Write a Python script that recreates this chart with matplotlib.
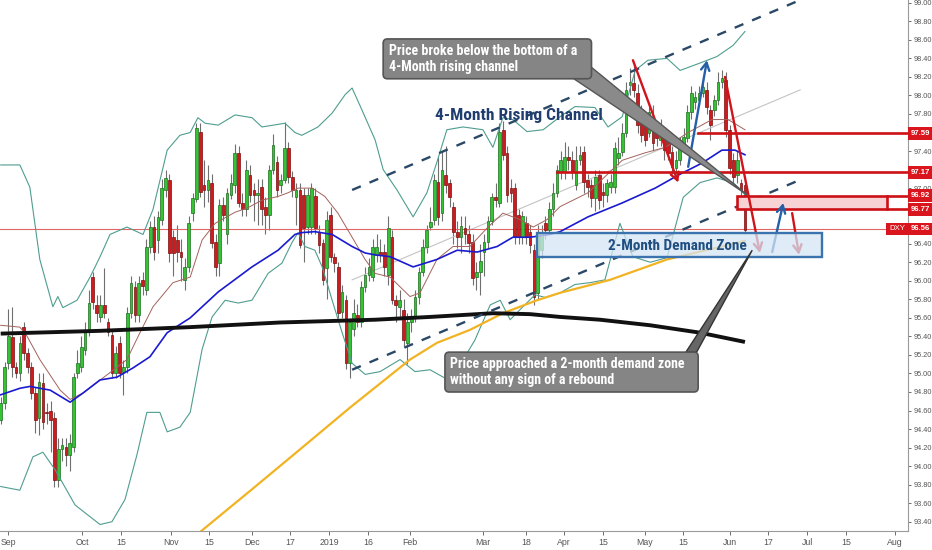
import matplotlib
matplotlib.use('Agg')
import matplotlib.pyplot as plt
from matplotlib.patches import Rectangle, FancyBboxPatch, Polygon
from matplotlib import font_manager as fm
import numpy as np

# ---------------- data ----------------
opens = [94.50, 94.68, 95.11, 95.39, 95.07, 95.01, 95.50, 95.22, 95.07, 94.79,
         94.52, 94.90, 94.58, 94.60, 94.52, 93.85, 94.18, 94.21, 94.12, 94.21,
         95.01, 95.07, 95.25, 95.45, 96.04, 95.74, 95.61, 95.74, 95.56, 95.42,
         95.01, 95.33, 95.02, 95.07, 95.65, 95.93, 95.63, 96.01, 95.90, 96.36,
         96.58, 96.44, 96.66, 96.98, 97.09, 96.47, 96.44, 96.31, 96.01, 96.15,
         96.73, 96.88, 97.61, 97.03, 96.98, 97.06, 96.42, 96.19, 96.82, 96.50,
         96.93, 97.03, 97.38, 96.84, 96.77, 97.14, 96.98, 96.93, 97.01, 96.80,
         96.71, 97.20, 97.28, 97.03, 97.09, 97.43, 97.12, 96.90, 96.98, 96.93,
         96.58, 96.58, 96.91, 96.53, 96.41, 96.14, 96.71, 96.26, 96.15, 95.66,
         95.79, 95.11, 95.48, 95.63, 95.56, 95.93, 96.06, 96.04, 96.28, 96.31,
         96.31, 96.06, 96.47, 95.79, 95.72, 95.69, 95.33, 95.55, 95.60, 95.83,
         96.09, 96.37, 96.58, 96.66, 97.07, 96.73, 97.14, 97.06, 96.80, 96.53,
         96.47, 96.57, 96.50, 96.42, 96.04, 96.09, 96.31, 96.42, 96.64, 96.90,
         96.84, 97.63, 97.38, 97.00, 97.00, 96.71, 96.47, 96.62, 96.53, 96.33,
         95.87, 96.33, 96.62, 96.55, 96.77, 96.95, 97.17, 97.17, 97.34, 97.30,
         97.03, 97.30, 97.39, 97.09, 97.03, 96.89, 97.14, 96.96, 96.93, 97.01,
         97.01, 97.32, 97.39, 97.60, 98.11, 98.13, 98.03, 97.84, 97.71, 97.60,
         97.70, 97.61, 97.52, 97.55, 97.52, 97.39, 97.22, 97.30, 97.47, 97.54,
         97.82, 97.93, 97.95, 98.03, 98.06, 97.84, 97.84, 97.95, 98.15, 98.17,
         97.63, 97.30, 97.14, 97.06, 97.03]
highs = [94.75, 95.12, 95.70, 95.72, 95.12, 95.40, 95.56, 95.28, 95.12, 94.85,
         95.00, 95.00, 94.68, 94.70, 94.58, 94.30, 94.30, 94.30, 94.35, 95.00,
         95.25, 95.40, 95.55, 95.90, 96.10, 95.85, 95.85, 96.14, 95.60, 95.48,
         95.30, 95.40, 95.15, 95.72, 96.05, 96.00, 96.05, 96.10, 96.45, 96.65,
         96.70, 96.75, 97.10, 97.20, 97.15, 96.55, 96.60, 96.45, 96.25, 96.70,
         96.95, 97.70, 97.70, 97.30, 97.25, 97.15, 96.50, 96.88, 96.90, 97.00,
         97.15, 97.48, 97.45, 96.95, 97.30, 97.25, 97.05, 97.10, 97.10, 96.90,
         97.25, 97.58, 97.35, 97.15, 97.71, 97.50, 97.18, 97.05, 97.05, 97.00,
         97.00, 97.05, 97.00, 96.60, 96.45, 96.75, 96.80, 96.30, 96.20, 95.95,
         95.85, 95.60, 95.80, 95.75, 96.00, 96.15, 96.25, 96.45, 96.50, 96.45,
         96.40, 96.70, 96.55, 95.85, 95.90, 95.80, 95.65, 95.70, 95.90, 96.15,
         96.45, 96.60, 96.80, 97.15, 97.34, 97.40, 97.45, 97.10, 96.85, 96.65,
         96.70, 96.70, 96.60, 96.50, 96.20, 96.40, 96.50, 96.70, 96.95, 97.05,
         97.70, 97.72, 97.45, 97.10, 97.05, 96.78, 96.75, 96.70, 96.60, 96.40,
         96.60, 96.60, 96.70, 96.85, 97.05, 97.25, 97.40, 97.50, 97.45, 97.40,
         97.45, 97.45, 97.45, 97.15, 97.10, 97.20, 97.20, 97.05, 97.10, 97.15,
         97.50, 97.55, 97.70, 98.15, 98.30, 98.36, 98.12, 97.90, 97.80, 97.88,
         97.90, 97.70, 97.75, 97.65, 97.60, 97.45, 97.40, 97.55, 97.65, 97.90,
         98.10, 98.05, 98.10, 98.20, 98.15, 97.90, 98.00, 98.25, 98.28, 98.25,
         97.68, 97.38, 97.40, 97.10, 97.10]
lows = [94.45, 94.62, 95.05, 94.96, 94.95, 94.92, 95.15, 95.00, 94.72, 94.36,
        94.34, 94.40, 94.45, 94.15, 93.78, 93.78, 94.05, 94.00, 93.95, 94.15,
        94.95, 95.02, 95.20, 95.40, 95.70, 95.55, 95.55, 95.60, 95.40, 94.95,
        94.95, 94.95, 94.77, 95.00, 95.60, 95.55, 95.55, 95.85, 95.85, 96.30,
        96.22, 96.30, 96.60, 96.90, 96.20, 96.05, 96.20, 96.00, 95.90, 96.10,
        96.65, 96.85, 96.90, 96.80, 96.85, 96.35, 96.05, 96.05, 96.65, 96.40,
        96.88, 96.95, 96.80, 96.70, 96.70, 96.85, 96.65, 96.60, 96.60, 96.50,
        96.55, 97.15, 96.90, 96.95, 97.05, 97.05, 96.90, 96.60, 96.35, 96.20,
        96.50, 96.50, 96.50, 96.30, 95.95, 95.80, 96.20, 96.10, 95.60, 95.60,
        95.05, 94.95, 95.40, 95.50, 95.50, 95.88, 96.00, 96.00, 96.20, 96.20,
        96.05, 95.95, 95.75, 95.55, 95.60, 95.30, 95.10, 95.45, 95.55, 95.75,
        96.05, 96.30, 96.55, 96.60, 96.60, 96.65, 96.95, 96.80, 96.40, 96.35,
        96.30, 96.40, 96.30, 95.95, 95.90, 95.85, 96.05, 96.35, 96.60, 96.80,
        96.80, 97.30, 96.85, 96.85, 96.40, 96.40, 96.40, 96.40, 96.30, 95.74,
        95.80, 96.25, 96.45, 96.50, 96.70, 96.90, 97.10, 97.10, 97.20, 97.10,
        96.98, 97.25, 96.95, 96.90, 96.80, 96.75, 96.78, 96.80, 96.85, 96.95,
        96.95, 97.25, 97.35, 97.55, 98.00, 97.98, 97.60, 97.50, 97.45, 97.55,
        97.40, 97.45, 97.45, 97.30, 97.30, 97.15, 97.15, 97.25, 97.40, 97.50,
        97.75, 97.85, 97.90, 97.98, 97.80, 97.52, 97.78, 97.90, 98.08, 97.55,
        97.15, 97.05, 97.05, 96.90, 96.50]
closes = [94.68, 95.07, 95.40, 95.07, 95.01, 95.33, 95.22, 95.07, 94.79, 94.50,
          94.91, 94.48, 94.57, 94.50, 93.85, 94.18, 94.23, 94.12, 94.25, 94.96,
          95.11, 95.29, 95.45, 95.76, 95.77, 95.65, 95.74, 95.65, 95.45, 95.01,
          95.22, 95.01, 95.07, 95.65, 95.98, 95.63, 95.98, 95.94, 96.36, 96.58,
          96.31, 96.69, 97.00, 97.11, 96.30, 96.30, 96.31, 96.26, 96.15, 96.62,
          96.89, 97.65, 96.96, 96.98, 97.09, 96.41, 96.15, 96.82, 96.71, 96.95,
          97.06, 97.38, 96.84, 96.77, 97.20, 96.93, 96.93, 96.95, 96.77, 96.71,
          97.20, 97.47, 96.98, 97.09, 97.43, 97.12, 96.98, 96.98, 96.39, 96.57,
          96.93, 97.00, 96.57, 96.39, 96.01, 96.66, 96.26, 96.19, 95.65, 95.88,
          95.11, 95.55, 95.65, 95.56, 95.93, 96.06, 96.15, 96.37, 96.37, 96.28,
          96.15, 96.57, 95.79, 95.74, 95.79, 95.36, 95.55, 95.60, 95.83, 96.09,
          96.37, 96.55, 96.63, 97.09, 96.69, 97.20, 97.03, 96.90, 96.53, 96.47,
          96.59, 96.50, 96.41, 96.03, 96.10, 96.21, 96.42, 96.64, 96.90, 96.87,
          97.61, 97.36, 96.93, 96.95, 96.47, 96.47, 96.70, 96.47, 96.39, 95.83,
          96.52, 96.53, 96.55, 96.77, 96.95, 97.20, 97.30, 97.34, 97.30, 97.17,
          97.30, 97.36, 97.07, 97.01, 96.89, 97.12, 96.87, 96.93, 97.06, 97.07,
          97.43, 97.38, 97.60, 98.06, 98.15, 98.06, 97.68, 97.57, 97.52, 97.82,
          97.49, 97.54, 97.61, 97.41, 97.38, 97.23, 97.30, 97.47, 97.55, 97.82,
          98.03, 97.98, 98.03, 98.09, 97.87, 97.68, 97.95, 98.15, 98.19, 97.63,
          97.22, 97.12, 97.30, 96.98, 96.55]

# indicator lines: (bar index, price) pairs read at sparse points
sma200_x = [0, 25.9, 49.4, 72.8, 97.6, 111.9, 128.3, 138, 145.8, 156.2, 169.3, 182.3, 194]
sma200_y = [95.43, 95.46, 95.50, 95.55, 95.58, 95.61, 95.65, 95.64, 95.61, 95.58, 95.52, 95.44, 95.34]

yellow_x = [52, 65.5, 78, 91, 106.7, 113.7, 122.3, 130.9, 139.8, 145.8, 158.8, 173.7, 194]
yellow_y = [93.29, 93.75, 94.18, 94.63, 95.15, 95.33, 95.47, 95.65, 95.79, 95.87, 96.01, 96.23, 96.43]

sma50_x = [0, 5.0, 7.6, 12.9, 18.1, 21.5, 25.9, 30.3, 34.5, 38.9, 43.4, 49.4, 56.7, 65.5,
           72.3, 76.7, 78.5, 81.9, 86.4, 91.6, 95.0, 97.6, 101.5, 107.5, 113.7, 119.0,
           124.2, 129.4, 133.5, 138.0, 143.2, 145.8, 153.1, 162.0, 170.6, 176.6, 182.8,
           188.0, 191.4, 194.0]
sma50_y = [94.77, 94.84, 94.86, 94.82, 94.69, 94.79, 94.93, 94.96, 95.06, 95.18, 95.44,
           95.60, 95.88, 96.15, 96.33, 96.50, 96.52, 96.53, 96.50, 96.37, 96.30, 96.28,
           96.26, 96.15, 96.23, 96.33, 96.31, 96.37, 96.47, 96.47, 96.50, 96.53, 96.69,
           96.84, 97.00, 97.14, 97.27, 97.41, 97.41, 97.36]

sma20_x = [0, 5.0, 6.9, 10.2, 15.5, 18.1, 21.5, 28.5, 32.9, 36.3, 39.7, 44.9, 49.4, 52.5,
           55.9, 61.1, 64.5, 68.1, 72.3, 74.9, 77.5, 81.2, 84.5, 87.9, 91.6, 95.0, 97.6,
           101.5, 106.7, 109.3, 113.7, 117.9, 122.3, 126.8, 130.9, 135.4, 138.8, 142.4,
           145.8, 153.1, 162.0, 167.9, 173.2, 179.2, 185.4, 189.6, 194.0]
sma20_y = [95.52, 95.50, 95.40, 95.15, 94.82, 94.72, 94.79, 95.01, 95.15, 95.44, 95.72,
           95.98, 96.04, 96.44, 96.62, 96.74, 96.79, 96.87, 96.91, 96.95, 97.00, 97.00,
           96.91, 96.73, 96.47, 96.23, 96.08, 96.04, 95.83, 95.87, 96.23, 96.37, 96.37,
           96.57, 96.73, 96.66, 96.58, 96.66, 96.80, 96.95, 97.30, 97.38, 97.44, 97.60,
           97.74, 97.74, 97.63]

bb_up_x = [0, 5.0, 7.6, 10.2, 13.6, 14.9, 16.2, 19.9, 23.3, 25.9, 28.5, 32.9, 37.1, 39.7,
           43.4, 46.7, 49.4, 51.4, 53.3, 56.7, 61.1, 65.5, 68.1, 74.1, 76.7, 78.5, 82.7,
           86.4, 89.8, 91.6, 94.2, 97.6, 99.7, 103.3, 107.5, 111.1, 113.7, 116.3, 120.5,
           125.7, 128.3, 130.9, 133.5, 137.2, 141.4, 145.8, 149.7, 154.9, 158.3, 162.0,
           165.4, 168.7, 173.7, 177.1, 182.3, 186.7, 190.9, 194.0]
bb_up_y = [97.25, 97.25, 97.01, 96.23, 95.72, 95.83, 95.71, 95.79, 96.04, 96.26, 96.50,
           96.58, 96.50, 96.77, 97.41, 97.57, 97.60, 97.76, 97.70, 97.68, 97.79, 97.76,
           97.66, 97.70, 97.60, 97.57, 97.66, 97.81, 98.01, 98.08, 97.84, 97.52, 97.20,
           96.98, 96.69, 96.95, 97.28, 97.63, 97.66, 97.63, 97.44, 97.76, 97.74, 97.61,
           97.63, 97.77, 97.88, 97.87, 97.66, 97.77, 98.27, 98.38, 98.40, 98.27, 98.35,
           98.42, 98.54, 98.69]

bb_lo_x = [0, 5.0, 8.4, 11.0, 14.2, 19.4, 25.9, 29.0, 32.4, 35.5, 38.1, 41.5, 43.4, 46.7,
           49.4, 52.5, 55.1, 58.5, 61.9, 65.5, 69.7, 73.3, 75.9, 77.5, 79.3, 81.9, 83.8,
           86.4, 89.0, 91.6, 95.0, 98.9, 104.1, 108.0, 111.9, 115.8, 119.7, 123.6, 127.6,
           130.2, 132.8, 135.4, 139.3, 141.9, 145.8, 149.7, 153.6, 157.5, 161.4, 164.8,
           169.3, 173.7, 177.9, 182.3, 186.7, 190.9, 194.0]
bb_lo_y = [93.78, 93.74, 94.10, 94.15, 93.96, 93.58, 93.37, 93.40, 93.64, 94.12, 94.58,
           94.58, 94.37, 94.42, 94.58, 95.26, 95.61, 95.79, 95.76, 95.79, 96.08, 96.19,
           96.41, 96.52, 96.37, 96.33, 96.15, 95.79, 95.44, 95.11, 94.99, 95.02, 95.15,
           95.02, 95.04, 94.95, 95.09, 95.36, 95.74, 95.79, 95.58, 95.69, 95.85, 95.82,
           95.87, 95.96, 95.98, 96.01, 96.62, 96.26, 96.20, 96.25, 96.90, 97.06, 97.11,
           97.06, 96.93]

xtick_pos = [1.9, 21.2, 31.4, 44.4, 54.3, 65.5, 75.4, 85.6, 95.7, 106.7, 125.7, 136.9,
             146.8, 157.0, 167.9, 177.9, 190.1, 200.0, 210.2, 220.4, 233.1]
xtick_labels = ['Sep', 'Oct', '15', 'Nov', '15', 'Dec', '17', '2019', '16', 'Feb', 'Mar',
                '18', 'Apr', '15', 'May', '15', 'Jun', '17', 'Jul', '15', 'Aug']

ytick_values = [93.40, 93.60, 93.80, 94.00, 94.20, 94.40, 94.60, 94.80, 95.00, 95.20,
                95.40, 95.60, 95.80, 96.00, 96.20, 96.40, 97.00, 97.40, 97.80,
                98.00, 98.20, 98.40, 98.60, 98.80, 99.00]

level_values = [97.59, 97.17, 96.92, 96.77]
last_price = 96.56
zone_low, zone_high = 96.26, 96.52

# ---------------- fonts ----------------
avail = {f.name for f in fm.fontManager.ttflist}
if 'Liberation Sans Narrow' in avail:
    NARROW, k = 'Liberation Sans Narrow', 1.0
elif 'Roboto Condensed' in avail:
    NARROW, k = 'Roboto Condensed', 1.0
else:
    NARROW, k = 'Liberation Sans', 0.85
AXF = ['Liberation Sans', 'DejaVu Sans']

# ---------------- figure ----------------
fig = plt.figure(figsize=(9.32, 5.5), dpi=100)
ax = fig.add_axes([0, 19 / 550, 908 / 932, 531 / 550])
ax.set_xlim(-0.18, 236.5)
ax.set_ylim(93.30, 99.03)

idx = np.arange(len(closes))
o = np.array(opens); h = np.array(highs); l = np.array(lows); c = np.array(closes)
up = c >= o
ax.vlines(idx, l, h, color='#6f6f6f', lw=0.8, zorder=2)
body_bot = np.minimum(o, c)
body_h = np.maximum(np.abs(c - o), 0.012)
ax.bar(idx[up], body_h[up], bottom=body_bot[up], width=0.7,
       color='#35c235', edgecolor='#1d6e1d', lw=0.5, zorder=3)
ax.bar(idx[~up], body_h[~up], bottom=body_bot[~up], width=0.7,
       color='#cc1c1f', edgecolor='#7a0d0d', lw=0.5, zorder=3)

# indicators
ax.plot(bb_up_x, bb_up_y, color='#4f9d8f', lw=0.8, zorder=4)
ax.plot(bb_lo_x, bb_lo_y, color='#4f9d8f', lw=0.8, zorder=4)
ax.plot(sma20_x, sma20_y, color='#a3625c', lw=0.7, zorder=4)
ax.plot(sma50_x, sma50_y, color='#1a1ad0', lw=1.2, zorder=4)
ax.plot(yellow_x, yellow_y, color='#f2b322', lw=1.6, zorder=4)
ax.plot(sma200_x, sma200_y, color='#111111', lw=2.8, zorder=4, solid_capstyle='butt')

# channel
ch_x = [91.6, 208.4]
ax.plot(ch_x, [96.98, 99.03], color='#2b4866', lw=1.7, ls=(0, (4, 4)), zorder=5)
ax.plot(ch_x, [95.04, 97.09], color='#2b4866', lw=1.7, ls=(0, (4, 4)), zorder=5)
ax.plot(ch_x, [96.01, 98.06], color='#c4c4c4', lw=0.8, zorder=2)

# current price line
ax.axhline(last_price, color='#e06666', lw=0.8, zorder=2)

# horizontal levels
ax.plot([181.8, 236.5], [level_values[0]] * 2, color='#cc1016', lw=1.9, zorder=6)
ax.plot([145.0, 236.5], [level_values[1]] * 2, color='#cc1016', lw=1.9, zorder=6)
ax.add_patch(Rectangle((191.9, level_values[3]), 231.0 - 191.9, level_values[2] - level_values[3],
                       fc='#f7d3d6', ec='#cc1016', lw=1.9, zorder=5))
ax.plot([231.0, 236.5], [level_values[2]] * 2, color='#cc1016', lw=1.9, zorder=6)
ax.plot([231.0, 236.5], [level_values[3]] * 2, color='#cc1016', lw=1.9, zorder=6)

# arrows
def arrow(x0, y0, x1, y1, col):
    ax.annotate('', xy=(x1, y1), xytext=(x0, y0), zorder=7,
                arrowprops=dict(arrowstyle='->,head_length=0.55,head_width=0.3',
                                color=col, lw=1.7, shrinkA=0, shrinkB=0))

arrow(164.8, 98.38, 176.6, 97.06, '#d0141c')
arrow(179.2, 97.23, 184.1, 98.38, '#245fa8')
arrow(188.8, 98.20, 197.9, 96.30, '#d0141c')
arrow(201.1, 96.31, 204.0, 96.84, '#245fa8')
arrow(206.3, 96.73, 208.1, 96.28, '#d0141c')

# demand zone (drawn on top, semi-transparent)
ax.add_patch(Rectangle((139.8, zone_low), 214.1 - 139.8, zone_high - zone_low,
                       fc='#d5e5f5', ec='none', alpha=0.75, zorder=8))
ax.add_patch(Rectangle((139.8, zone_low), 214.1 - 139.8, zone_high - zone_low,
                       fc='none', ec='#3a73ad', lw=1.7, zorder=8))
ax.text(176.3, 96.375, '2-Month Demand Zone', family=[NARROW, 'DejaVu Sans'],
        fontweight='bold', fontsize=11 * k, color='#1f4e80', ha='center', va='center', zorder=9)

ax.text(135.1, 97.78, '4-Month Rising Channel', family=[NARROW, 'DejaVu Sans'],
        fontweight='bold', fontsize=12.5 * k, color='#1f3d6e', ha='center', va='center', zorder=9)

# callouts
MA = 3.836 / 92.7
ax.add_patch(Polygon([(149.4, 98.18), (154.1, 98.30), (194.5, 96.93)], closed=True,
                     fc='#8a8a8a', ec='#555555', lw=1.0, zorder=9))
ax.add_patch(FancyBboxPatch((99.7, 98.18), 154.0 - 99.7, 98.61 - 98.18,
                            boxstyle='round,pad=0,rounding_size=1.1', mutation_aspect=MA,
                            fc='#858585', ec='#555555', lw=1.2, zorder=10))
ax.text(101.3, 98.395, 'Price broke below the bottom of a\n4-Month rising channel',
        family=[NARROW, 'DejaVu Sans'], fontweight='bold', fontsize=10 * k, color='white',
        ha='left', va='center', linespacing=1.15, zorder=11)

ax.add_patch(Polygon([(178.6, 95.23), (181.4, 95.23), (195.9, 96.33)], closed=True,
                     fc='#666666', ec='#333333', lw=1.0, zorder=9))
ax.add_patch(FancyBboxPatch((115.8, 94.80), 181.8 - 115.8, 95.23 - 94.80,
                            boxstyle='round,pad=0,rounding_size=1.1', mutation_aspect=MA,
                            fc='#858585', ec='#555555', lw=1.2, zorder=10))
ax.text(117.2, 95.015, 'Price approached a 2-month demand zone\nwithout any sign of a rebound',
        family=[NARROW, 'DejaVu Sans'], fontweight='bold', fontsize=10 * k, color='white',
        ha='left', va='center', linespacing=1.15, zorder=11)

# axes styling
for s in ['top', 'left']:
    ax.spines[s].set_visible(False)
ax.spines['right'].set_color('#9a9a9a')
ax.spines['bottom'].set_color('#9a9a9a')
ax.yaxis.tick_right()
ax.set_yticks(ytick_values)
ax.set_yticklabels([f'{v:.2f}' for v in ytick_values], family=AXF)
ax.tick_params(axis='y', labelsize=5.3, colors='#555555', length=2.5, width=0.6, pad=1.5)
ax.set_xticks(xtick_pos)
ax.set_xticklabels(xtick_labels, family=AXF)
ax.tick_params(axis='x', labelsize=6.3, colors='#555555', length=3, width=0.6, pad=2)

# price labels on the axis
ytr = ax.get_yaxis_transform()
for v in level_values + [last_price]:
    ax.text(1.003, v, f'{v:.2f}', family=AXF, fontsize=5.6, color='white', fontweight='bold',
            va='center', ha='left', transform=ytr, clip_on=False, zorder=20,
            bbox=dict(boxstyle='square,pad=0.36', fc='#d9161d', ec='none'))
ax.text(0.997, last_price, 'DXY', family=AXF, fontsize=5.6, color='white', va='center', ha='right',
        transform=ytr, clip_on=False, zorder=20,
        bbox=dict(boxstyle='square,pad=0.36', fc='#d9161d', ec='none'))

fig.savefig('out.png', dpi=100, facecolor='white')
